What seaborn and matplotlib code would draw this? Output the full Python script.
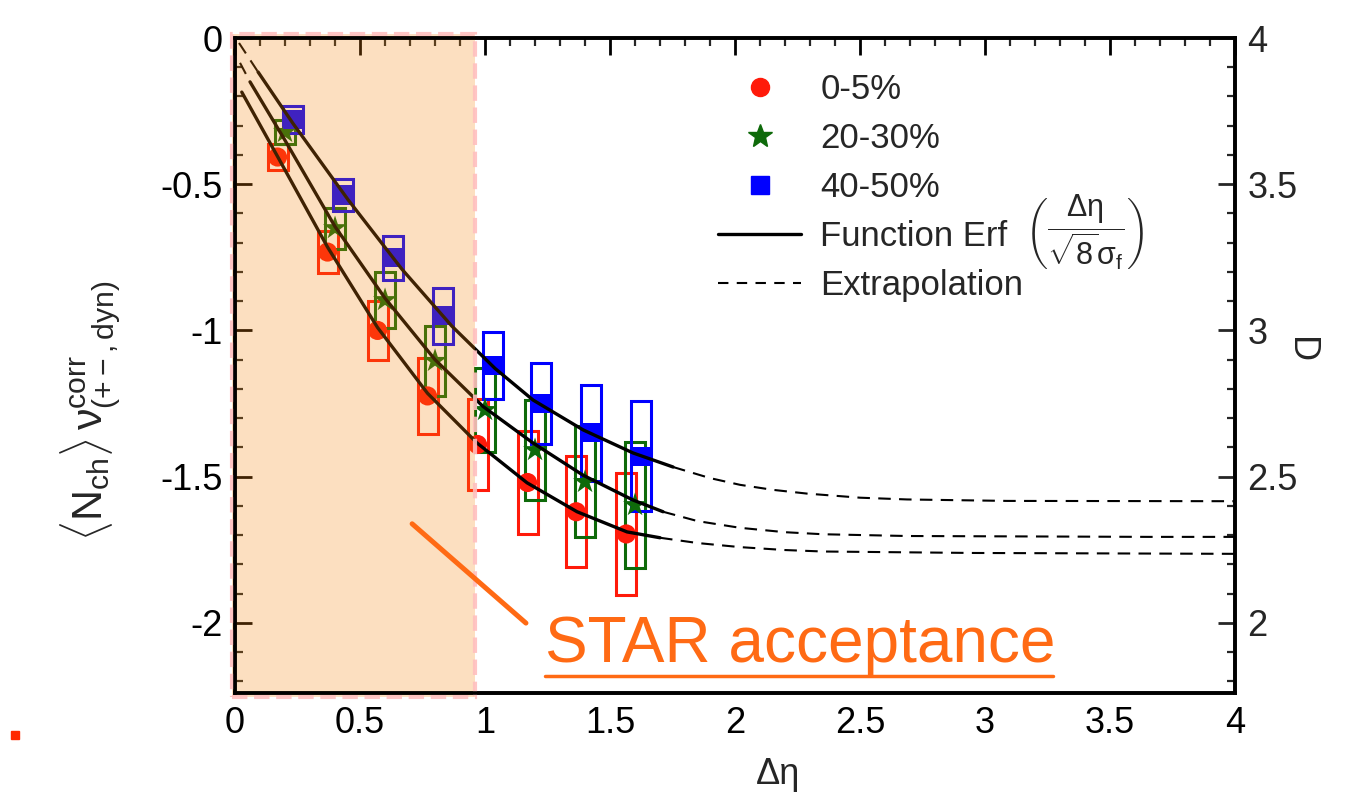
import matplotlib.pyplot as plt
import numpy as np
import pandas as pd
import seaborn as sns
from matplotlib.lines import Line2D
from matplotlib.patches import Rectangle
from matplotlib.ticker import FuncFormatter, MultipleLocator

# centrality 0-5%
eta_0_5 = [0.17, 0.37, 0.57, 0.77, 0.97, 1.17, 1.365, 1.565]
nu_0_5 = [-0.407, -0.732, -1.0, -1.224, -1.39, -1.52, -1.62, -1.696]
sys_0_5 = [0.046, 0.073, 0.10, 0.13, 0.157, 0.175, 0.19, 0.21]

# centrality 20-30%
eta_20_30 = [0.2, 0.4, 0.6, 0.8, 1.0, 1.2, 1.4, 1.6]
nu_20_30 = [-0.321, -0.65, -0.896, -1.104, -1.272, -1.409, -1.518, -1.597]
sys_20_30 = [0.04, 0.07, 0.095, 0.12, 0.145, 0.17, 0.19, 0.215]

# centrality 40-50%
eta_40_50 = [0.23, 0.43, 0.63, 0.83, 1.03, 1.225, 1.425, 1.625]
nu_40_50 = [-0.279, -0.537, -0.752, -0.95, -1.12, -1.25, -1.35, -1.43]
sys_40_50 = [0.046, 0.056, 0.075, 0.096, 0.116, 0.138, 0.164, 0.188]

# erf fits (solid)
fit_x_0_5 = [0.027, 0.17, 0.37, 0.57, 0.77, 0.968, 1.168, 1.368, 1.568, 1.70]
fit_y_0_5 = [-0.185, -0.405, -0.715, -0.99, -1.215, -1.385, -1.521, -1.62, -1.689, -1.709]
fit_x_20_30 = [0.06, 0.2, 0.4, 0.6, 0.8, 0.992, 1.192, 1.392, 1.592, 1.712]
fit_y_20_30 = [-0.15, -0.35, -0.645, -0.89, -1.10, -1.26, -1.385, -1.495, -1.58, -1.62]
fit_x_40_50 = [0.092, 0.23, 0.453, 0.667, 0.867, 1.04, 1.192, 1.392, 1.592, 1.752]
fit_y_40_50 = [-0.116, -0.29, -0.554, -0.79, -0.985, -1.13, -1.238, -1.34, -1.419, -1.467]

# extrapolations (dashed)
ext_x_0_5 = [1.70, 1.85, 2.02, 2.2, 2.352, 2.952, 4.0]
ext_y_0_5 = [-1.709, -1.727, -1.741, -1.751, -1.756, -1.761, -1.764]
ext_x_20_30 = [0.02, 0.06, None, 1.712, 1.85, 2.02, 2.2, 2.352, 2.688, 3.66, 4.0]
ext_y_20_30 = [-0.085, -0.15, None, -1.62, -1.652, -1.675, -1.69, -1.697, -1.703, -1.706, -1.706]
ext_x_40_50 = [0.016, 0.092, None, 1.752, 1.9, 2.02, 2.15, 2.288, 2.5, 2.688, 3.088, 4.0]
ext_y_40_50 = [-0.017, -0.116, None, -1.467, -1.505, -1.528, -1.545, -1.558, -1.572, -1.578, -1.583, -1.584]

labels = ["0-5%", "20-30%", "40-50%"]
colors = {"0-5%": "#ff1a0a", "20-30%": "#0e6a0a", "40-50%": "#0000ff"}
markers = {"0-5%": "o", "20-30%": "*", "40-50%": "s"}
orange = "#ff6a14"

sns.set_theme(style="white")
plt.rcParams["font.family"] = ["Liberation Sans", "DejaVu Sans"]
plt.rcParams["mathtext.fontset"] = "custom"
plt.rcParams["mathtext.rm"] = "Liberation Sans"
plt.rcParams["mathtext.it"] = "Liberation Sans:italic"
plt.rcParams["axes.unicode_minus"] = False

points = pd.concat([
    pd.DataFrame({"eta": eta_0_5, "nu": nu_0_5, "sys": sys_0_5, "cent": labels[0]}),
    pd.DataFrame({"eta": eta_20_30, "nu": nu_20_30, "sys": sys_20_30, "cent": labels[1]}),
    pd.DataFrame({"eta": eta_40_50, "nu": nu_40_50, "sys": sys_40_50, "cent": labels[2]}),
], ignore_index=True)

fig = plt.figure(figsize=(13.72, 8), dpi=100)
ax = fig.add_axes([0.1713, 0.1337, 0.7289, 0.8188])

# systematic boxes
for cent, grp in points.groupby("cent"):
    ax.bar(grp["eta"], 2 * grp["sys"], bottom=grp["nu"] - grp["sys"], width=0.08,
           fill=False, edgecolor=colors[cent], linewidth=2.2, zorder=2)

sns.scatterplot(data=points, x="eta", y="nu", hue="cent", style="cent",
                palette=colors, markers=markers, size="cent",
                sizes={"0-5%": 190, "20-30%": 330, "40-50%": 190},
                linewidth=0, legend=False, ax=ax, zorder=3)

for fx, fy in [(fit_x_0_5, fit_y_0_5), (fit_x_20_30, fit_y_20_30), (fit_x_40_50, fit_y_40_50)]:
    sns.lineplot(x=fx, y=fy, sort=False, estimator=None, color="black", lw=2.4, ax=ax, zorder=4)
for ex, ey in [(ext_x_0_5, ext_y_0_5), (ext_x_20_30, ext_y_20_30), (ext_x_40_50, ext_y_40_50)]:
    ax.plot(np.array(ex, dtype=float), np.array(ey, dtype=float), color="black",
            lw=1.5, dashes=(6, 4), zorder=4)

# STAR acceptance band
ax.axvspan(-0.012, 0.96, ymin=-0.006, ymax=1.006, facecolor=(0.965, 0.53, 0.05, 0.26),
           edgecolor=(1, 0.75, 0.75, 0.9), lw=3, ls="--", zorder=10, clip_on=False)
ax.annotate("", xy=(0.70, -1.655), xytext=(1.172, -2.007),
            arrowprops=dict(arrowstyle="-", color=orange, lw=3.6), zorder=11)
ax.text(2.26, -2.075, "STAR acceptance", color=orange, fontsize=46,
        ha="center", va="center", zorder=11)
ax.plot([1.24, 3.272], [-2.181, -2.181], color=orange, lw=2.5, zorder=11)

ax.set_xlim(0, 4)
ax.set_ylim(-2.24, 0)
fmt = FuncFormatter(lambda v, p: f"{v:g}")
ax.xaxis.set_major_locator(MultipleLocator(0.5))
ax.xaxis.set_minor_locator(MultipleLocator(0.1))
ax.yaxis.set_major_locator(MultipleLocator(0.5))
ax.yaxis.set_minor_locator(MultipleLocator(0.1))
ax.xaxis.set_major_formatter(fmt)
ax.yaxis.set_major_formatter(fmt)
ax.tick_params(which="major", direction="in", length=12, width=2, labelsize=26,
               top=True, right=False, pad=9, colors="black")
ax.tick_params(which="minor", direction="in", length=6, width=1.6, top=True, right=False)
for sp in ax.spines.values():
    sp.set_linewidth(2.6)
    sp.set_color("black")

ax2 = ax.twinx()
ax2.set_ylim(1.76, 4)
ax2.yaxis.set_major_locator(MultipleLocator(0.5))
ax2.yaxis.set_minor_locator(MultipleLocator(0.1))
ax2.yaxis.set_major_formatter(fmt)
ax2.tick_params(which="major", direction="in", length=12, width=2, labelsize=26, pad=9)
ax2.tick_params(which="minor", direction="in", length=6, width=1.6)
for sp in ax2.spines.values():
    sp.set_linewidth(2.6)
    sp.set_color("black")

ax.set_xlabel("Δη", fontsize=26)
ax.xaxis.set_label_coords(0.543, -0.098)
ax.set_ylabel(r"$\langle \mathrm{N_{ch}} \rangle\,\mathrm{\nu}^{\mathrm{corr}}_{(+-,\mathrm{dyn})}$",
              fontsize=31)
ax.yaxis.set_label_coords(-0.112, 0.43)
ax2.set_ylabel("D", fontsize=26, rotation=270, va="center")
ax2.yaxis.set_label_coords(1.065, 0.524)

handles = [
    Line2D([], [], ls="none", marker="o", ms=13, color=colors["0-5%"]),
    Line2D([], [], ls="none", marker="*", ms=18, color=colors["20-30%"]),
    Line2D([], [], ls="none", marker="s", ms=13, color=colors["40-50%"]),
    Line2D([], [], color="black", lw=2.4),
    Line2D([], [], color="black", lw=1.5, dashes=(5, 4)),
]
legend_labels = labels + ["Function Erf", "Extrapolation"]
ax.legend(handles, legend_labels, loc="upper left", bbox_to_anchor=(0.483, 0.946),
          frameon=False, fontsize=25, handlelength=2.4, handletextpad=0.55,
          labelspacing=0.46, borderpad=0, borderaxespad=0)
fig.text(0.747, 0.71,
         r"$\left(\dfrac{\mathrm{\Delta\eta}}{\sqrt{8}\mathrm{\sigma}_{\mathrm{f}}}\right)$",
         fontsize=22, ha="left", va="center")

fig.add_artist(Rectangle((0.008, 0.076), 0.0058, 0.01, transform=fig.transFigure,
                         color="#ff2a00"))

fig.savefig("out.png", dpi=100)
